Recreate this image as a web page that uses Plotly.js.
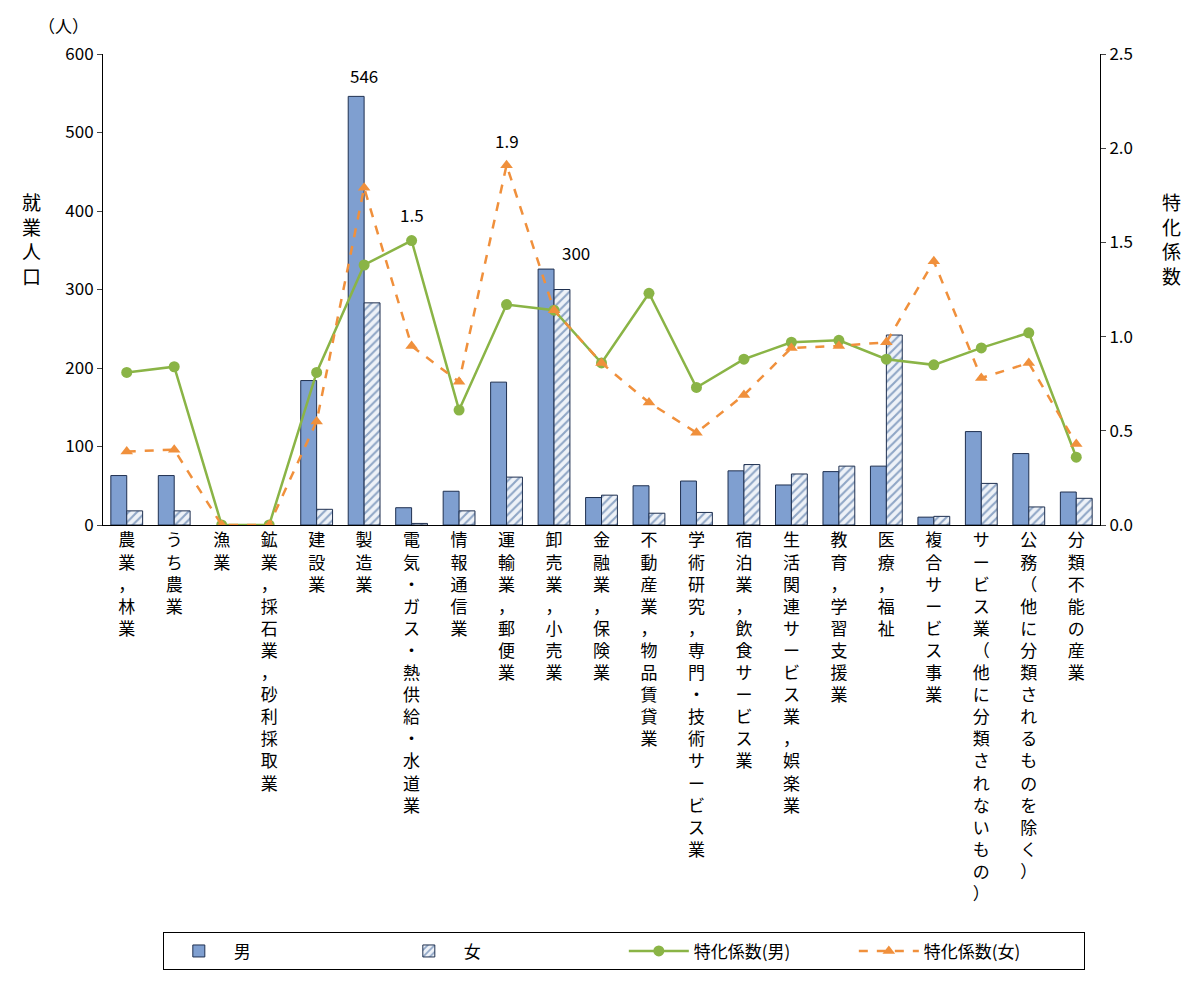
<!DOCTYPE html>
<html><head><meta charset="utf-8">
<script src="https://cdn.plot.ly/plotly-3.0.1.min.js"></script>
<style>body{margin:0;background:#fff}</style>
</head><body><div id="chart" style="width:1204px;height:982px"></div>
<script>
// industry categories and values
const categories = ["農業，林業","うち農業","漁業","鉱業，採石業，砂利採取業","建設業","製造業","電気・ガス・熱供給・水道業","情報通信業","運輸業，郵便業","卸売業，小売業","金融業，保険業","不動産業，物品賃貸業","学術研究，専門・技術サービス業","宿泊業，飲食サービス業","生活関連サービス業，娯楽業","教育，学習支援業","医療，福祉","複合サービス事業","サービス業（他に分類されないもの）","公務（他に分類されるものを除く）","分類不能の産業"];
const male = [63,63,0,0,184,546,22,43,182,326,35,50,56,69,51,68,75,10,119,91,42];
const female = [18,18,0,0,20,283,2,18,61,300,38,15,16,77,65,75,242,11,53,23,34];
const coefMale = [0.81,0.84,0,0,0.81,1.38,1.51,0.61,1.17,1.14,0.86,1.23,0.73,0.88,0.97,0.98,0.88,0.85,0.94,1.02,0.36];
const coefFemale = [0.39,0.40,0,0,0.55,1.79,0.95,0.76,1.91,1.14,0.86,0.65,0.49,0.69,0.94,0.95,0.97,1.40,0.78,0.86,0.43];

const FONT = "'Noto Sans CJK JP', 'Noto Sans', sans-serif";
const vert = (s) => Array.from(s).join("<br>");
const idx = categories.map((_, i) => i);
// zero values are left undrawn, as in the reference
const nz = (arr) => arr.map((v) => (v === 0 ? null : v));

const traces = [
  {type:"bar", name:"男", x:idx, y:nz(male), marker:{color:"#7f9fd0", line:{color:"#1f3050", width:1}}},
  {type:"bar", name:"女", x:idx, y:nz(female), marker:{color:"#dde6f2", line:{color:"#1f3050", width:1},
    pattern:{shape:"/", fgcolor:"#8fa6c6", bgcolor:"#eef2f8", size:6, solidity:0.35}}},
  {type:"scatter", name:"特化係数(男)", x:idx, y:coefMale, yaxis:"y2", mode:"lines+markers",
    line:{color:"#8ab446", width:2.5}, marker:{symbol:"circle", size:11, color:"#8ab446"}},
  {type:"scatter", name:"特化係数(女)", x:idx, y:coefFemale, yaxis:"y2", mode:"lines+markers",
    line:{color:"#f0903c", width:2.5, dash:"dash"}, marker:{symbol:"triangle-up", size:11, color:"#f0903c"}},
];

const annotations = [
  {x:5, y:546, xref:"x", yref:"y", text:"546", showarrow:false, yanchor:"bottom", yshift:6, font:{size:17}},
  {x:9, y:326, xref:"x", yref:"y", text:"300", showarrow:false, xanchor:"left", yanchor:"bottom", xshift:6, yshift:2, font:{size:17}},
  {x:6, y:1.51, xref:"x", yref:"y2", text:"1.5", showarrow:false, yanchor:"bottom", yshift:12, font:{size:17}},
  {x:8, y:1.91, xref:"x", yref:"y2", text:"1.9", showarrow:false, yanchor:"bottom", yshift:10, font:{size:17}},
  {x:-0.04, y:1.03, xref:"paper", yref:"paper", text:"（人）", showarrow:false, xanchor:"center", yanchor:"bottom", font:{size:17}},
  {x:-0.083, y:0.72, xref:"paper", yref:"paper", text:vert("就業人口"), showarrow:false, font:{size:19}},
  {x:1.083, y:0.72, xref:"paper", yref:"paper", text:vert("特化係数"), showarrow:false, font:{size:19}},
];

const layout = {
  width:1204, height:982,
  margin:{l:103, r:104, t:54, b:454},
  paper_bgcolor:"#fff", plot_bgcolor:"#fff",
  font:{family:FONT, size:17, color:"#000"},
  barmode:"group", bargap:0.33, bargroupgap:0,
  showlegend:true,
  legend:{orientation:"h", x:0.06, xanchor:"left", y:-0.865, yanchor:"top",
    bordercolor:"#000", borderwidth:1, font:{size:17}, entrywidth:155, itemwidth:60},
  xaxis:{range:[-0.5,20.5], tickvals:idx, ticktext:categories.map(vert), tickangle:0,
    showline:true, linecolor:"#000", ticks:"outside", ticklen:0, showgrid:false, zeroline:false,
    tickfont:{size:17}},
  yaxis:{range:[0,600], dtick:100, showline:true, linecolor:"#000", ticks:"outside", ticklen:5,
    showgrid:false, zeroline:false, tickfont:{size:17}},
  yaxis2:{range:[0,2.5], dtick:0.5, tickformat:".1f", overlaying:"y", side:"right",
    showline:true, linecolor:"#000", ticks:"outside", ticklen:5, showgrid:false, zeroline:false,
    tickfont:{size:17}},
  annotations,
};

Plotly.newPlot("chart", traces, layout, {displayModeBar:false, staticPlot:true});
</script></body></html>
